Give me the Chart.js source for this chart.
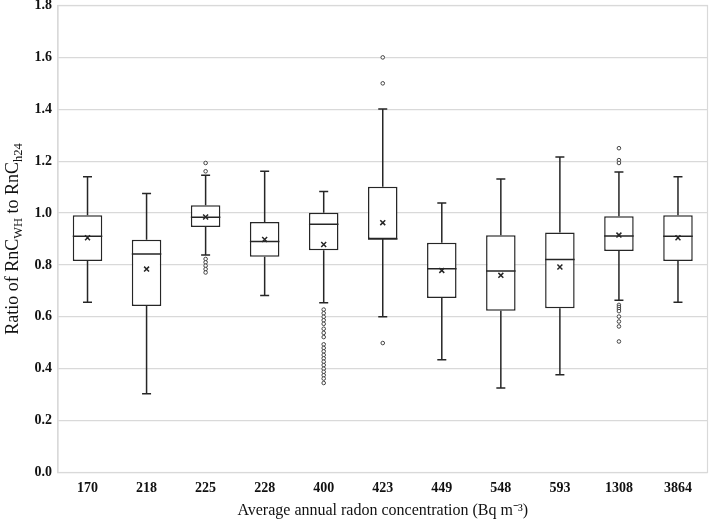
<!DOCTYPE html>
<html>
<head>
<meta charset="utf-8">
<script src="https://cdn.jsdelivr.net/npm/chart.js@4"></script>
<style>
html,body{margin:0;padding:0;background:#fff;overflow:hidden;}
#wrap{width:709px;height:524px;position:relative;overflow:hidden;}
#c{position:absolute;left:0;top:0;}
</style>
</head>
<body>
<div id="wrap"><canvas id="c" width="713" height="524"></canvas></div>
<script>
const categories = ['170','218','225','228','400','423','449','548','593','1308','3864'];
const whiskerLow  = [0.656,0.304,0.838,0.682,0.654,0.600,0.435,0.326,0.377,0.664,0.656];
const q1          = [0.815,0.642,0.946,0.832,0.857,0.900,0.673,0.623,0.633,0.854,0.815];
const median      = [0.911,0.842,0.984,0.890,0.957,0.900,0.785,0.777,0.821,0.912,0.911];
const q3          = [0.992,0.897,1.030,0.966,1.001,1.101,0.886,0.914,0.925,0.988,0.992];
const whiskerHigh = [1.140,1.075,1.146,1.161,1.083,1.401,1.039,1.131,1.216,1.158,1.140];
const means       = [0.905,0.784,0.985,0.898,0.879,0.963,0.779,0.760,0.792,0.915,0.905];
const outliers = [
  [],
  [],
  [1.193,1.161,0.823,0.810,0.797,0.784,0.771],
  [],
  [0.628,0.614,0.600,0.587,0.573,0.554,0.538,0.522,0.494,0.480,0.467,0.453,0.440,0.427,0.414,0.400,0.388,0.375,0.362,0.345],
  [1.600,1.500,0.499],
  [],
  [],
  [],
  [1.250,1.204,1.193,0.646,0.638,0.630,0.622,0.601,0.582,0.563,0.505],
  []
];
const yTicks = [0,0.2,0.4,0.6,0.8,1.0,1.2,1.4,1.6,1.8];

const boxData = categories.map((c,i)=>[q1[i],q3[i]]);
const outlierPoints = [];
outliers.forEach((arr,i)=>arr.forEach(v=>outlierPoints.push({x:categories[i],y:v})));

const LINE = '#262626';
const GRID = '#d9d9d9';

const whiskerPlugin = {
  id:'whiskers',
  afterDatasetsDraw(chart){
    const ctx = chart.ctx, xs = chart.scales.x, ys = chart.scales.y;
    const meta = chart.getDatasetMeta(0);
    ctx.save();
    ctx.strokeStyle = LINE;
    ctx.lineWidth = 1.5;
    categories.forEach((c,i)=>{
      const x = xs.getPixelForValue(i);
      const bw = meta.data[i].width;
      const cap = 4.5;
      ctx.beginPath();
      ctx.moveTo(x, ys.getPixelForValue(q3[i]));
      ctx.lineTo(x, ys.getPixelForValue(whiskerHigh[i]));
      ctx.moveTo(x-cap, ys.getPixelForValue(whiskerHigh[i]));
      ctx.lineTo(x+cap, ys.getPixelForValue(whiskerHigh[i]));
      ctx.moveTo(x, ys.getPixelForValue(q1[i]));
      ctx.lineTo(x, ys.getPixelForValue(whiskerLow[i]));
      ctx.moveTo(x-cap, ys.getPixelForValue(whiskerLow[i]));
      ctx.lineTo(x+cap, ys.getPixelForValue(whiskerLow[i]));
      ctx.moveTo(x-bw/2, ys.getPixelForValue(median[i]));
      ctx.lineTo(x+bw/2, ys.getPixelForValue(median[i]));
      ctx.stroke();
    });
    ctx.restore();
  }
};

const framePlugin = {
  id:'frame',
  beforeDatasetsDraw(chart){
    const a = chart.chartArea, ctx = chart.ctx;
    ctx.save();
    ctx.strokeStyle = GRID;
    ctx.lineWidth = 1.2;
    ctx.strokeRect(a.left, a.top, a.right-a.left, a.bottom-a.top);
    ctx.restore();
  }
};

const yTitlePlugin = {
  id:'ytitle',
  afterDraw(chart){
    const ctx = chart.ctx, a = chart.chartArea;
    const parts = [
      ['Ratio of RnC', false],
      ['WH', true],
      [' to RnC', false],
      ['h24', true]
    ];
    const big = '18px "Liberation Serif"', small = '12.5px "Liberation Serif"';
    ctx.save();
    let total = 0;
    parts.forEach(p=>{ctx.font = p[1]?small:big; total += ctx.measureText(p[0]).width;});
    ctx.translate(18, (a.top+a.bottom)/2);
    ctx.rotate(-Math.PI/2);
    ctx.fillStyle = '#111';
    ctx.textBaseline = 'alphabetic';
    let x = -total/2;
    parts.forEach(p=>{
      ctx.font = p[1]?small:big;
      ctx.fillText(p[0], x, p[1]?4:0);
      x += ctx.measureText(p[0]).width;
    });
    ctx.restore();
  }
};

new Chart(document.getElementById('c'), {
  type:'bar',
  data:{
    labels: categories,
    datasets:[
      {
        type:'bar',
        data: boxData,
        backgroundColor:'#ffffff',
        borderColor: LINE,
        borderWidth:1.5,
        borderSkipped:false,
        barPercentage:0.5,
        categoryPercentage:1.0,
        order:3
      },
      {
        type:'line',
        data: means,
        showLine:false,
        pointStyle:'crossRot',
        pointRadius:3.5,
        borderColor: LINE,
        pointBorderWidth:1.5,
        order:1
      },
      {
        type:'line',
        data: outlierPoints,
        showLine:false,
        pointStyle:'circle',
        pointRadius:1.8,
        pointBackgroundColor:'#ffffff',
        pointBorderColor:'#444',
        pointBorderWidth:1,
        order:2
      }
    ]
  },
  options:{
    responsive:false,
    animation:false,
    events:[],
    layout:{padding:{top:2.5,right:0,left:0,bottom:0}},
    plugins:{legend:{display:false},tooltip:{enabled:false}},
    scales:{
      x:{
        type:'category',
        grid:{display:false,drawTicks:false},
        border:{display:false},
        ticks:{color:'#111',padding:7,font:{family:'"Liberation Serif"',size:14,weight:'bold'}},
        title:{display:true,text:'Average annual radon concentration (Bq m\u207B\u00B3)',color:'#111',
               font:{family:'"Liberation Serif"',size:16},padding:{top:4,bottom:4}},
        afterFit(s){ s.height = 51.5; s.paddingLeft = 0; s.paddingRight = 0; }
      },
      y:{
        min:0,max:1.8,
        afterBuildTicks(s){ s.ticks = yTicks.map(v=>({value:v})); },
        grid:{color:GRID,lineWidth:1.2,drawTicks:false},
        border:{display:true,color:GRID,width:1.2},
        ticks:{color:'#111',padding:6,font:{family:'"Liberation Serif"',size:14,weight:'bold'},
               callback:v=>Number(v).toFixed(1)},
        afterFit(s){ s.width = 58; s.paddingTop = 0; s.paddingBottom = 0; }
      }
    }
  },
  plugins:[framePlugin, whiskerPlugin, yTitlePlugin]
});
</script>
</body>
</html>
